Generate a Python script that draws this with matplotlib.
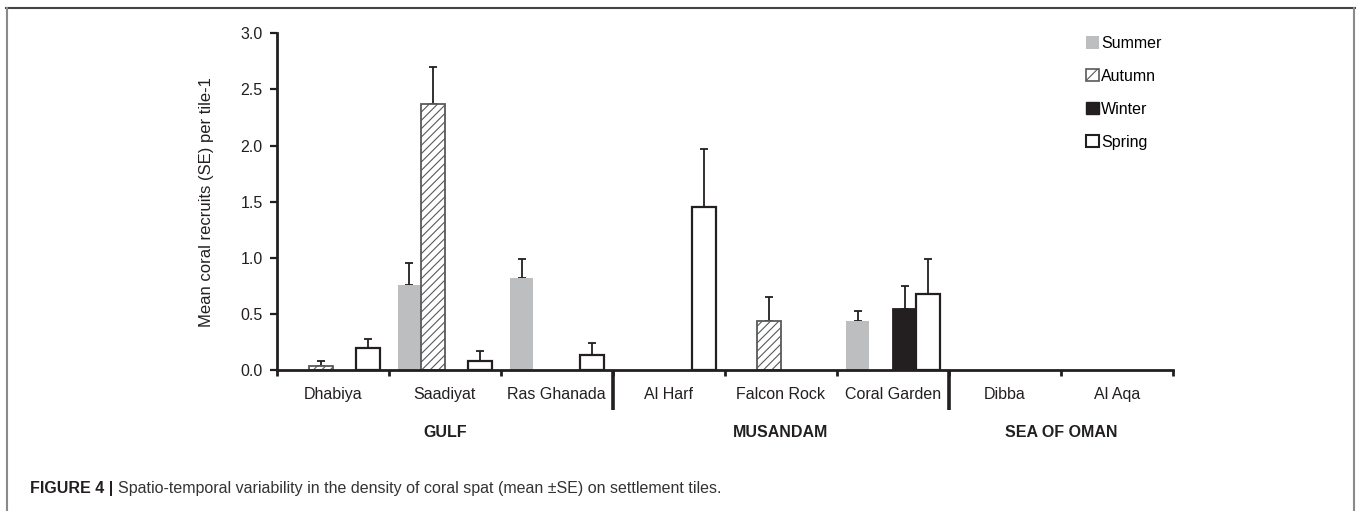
#------------------------------------------
#   Coral spat density by site and season
#------------------------------------------
import numpy as np
import matplotlib
matplotlib.use('Agg')
import matplotlib.pyplot as plt
from matplotlib.patches import Patch
from matplotlib.lines import Line2D

plt.rcParams['font.family'] = ['Liberation Sans', 'DejaVu Sans']
plt.rcParams['font.size'] = 11.5
plt.rcParams['hatch.linewidth'] = 0.8

#----- data
sites = ['Dhabiya', 'Saadiyat', 'Ras Ghanada', 'Al Harf', 'Falcon Rock',
         'Coral Garden', 'Dibba', 'Al Aqa']
regions = ['GULF', 'MUSANDAM', 'SEA OF OMAN']
region_bounds = [0, 3, 6, 8]
seasons = ['Summer', 'Autumn', 'Winter', 'Spring']
nan = np.nan
summer = [nan, 0.76, 0.82, nan, nan, 0.44, nan, nan]
summer_se = [nan, 0.19, 0.17, nan, nan, 0.09, nan, nan]
autumn = [0.04, 2.37, nan, nan, 0.44, nan, nan, nan]
autumn_se = [0.04, 0.33, nan, nan, 0.21, nan, nan, nan]
winter = [nan, nan, nan, nan, nan, 0.54, nan, nan]
winter_se = [nan, nan, nan, nan, nan, 0.21, nan, nan]
spring = [0.20, 0.08, 0.13, 1.45, nan, 0.68, nan, nan]
spring_se = [0.08, 0.09, 0.11, 0.52, nan, 0.31, nan, nan]

values = [summer, autumn, winter, spring]
errors = [summer_se, autumn_se, winter_se, spring_se]
styles = [dict(facecolor='#bcbec0', edgecolor='none', linewidth=0),
          dict(facecolor='white', edgecolor='#58595b', hatch='////', linewidth=1.3),
          dict(facecolor='#231f20', edgecolor='#231f20', linewidth=1.3),
          dict(facecolor='white', edgecolor='#231f20', linewidth=1.6)]
ink = '#231f20'

#----- figure
fig = plt.figure(figsize=(13.57, 5.11), dpi=100)
ax = fig.add_axes([276.7/1357, 141/511, 896.3/1357, 336.7/511])

x = np.arange(len(sites)) + 0.5
w = 0.21
for k in range(4):
    xs = x + (k - 1.5)*w
    ax.bar(xs, values[k], width=w, zorder=2, **styles[k])
    err = np.array(errors[k])
    ax.errorbar(xs, values[k], yerr=[np.zeros_like(err), err], fmt='none',
                ecolor=ink, elinewidth=1.3, capsize=3.2, capthick=1.3, zorder=1)

ax.set_xlim(0, 8)
ax.set_ylim(0, 3.0)
for s in ['top', 'right']:
    ax.spines[s].set_visible(False)
for s in ['left', 'bottom']:
    ax.spines[s].set_linewidth(2)
    ax.spines[s].set_color(ink)

ax.set_yticks(np.arange(0, 3.01, 0.5))
ax.set_yticklabels(['%.1f' % v for v in np.arange(0, 3.01, 0.5)], color=ink)
ax.tick_params(axis='y', direction='out', length=5, width=1.6, pad=5, color=ink)
ax.set_xticks(range(9))
ax.set_xticklabels([])
ax.tick_params(axis='x', direction='out', length=4.5, width=2, color=ink)

xt = ax.get_xaxis_transform()
for i, name in enumerate(sites):
    ax.text(i + 0.5, -29/336.7, name, ha='center', va='baseline',
            transform=xt, color=ink)
for i, name in enumerate(regions):
    c = (region_bounds[i] + region_bounds[i+1]) / 2
    ax.text(c, -67/336.7, name, ha='center', va='baseline', weight='bold',
            transform=xt, color=ink)
for b in region_bounds[1:3]:
    ax.plot([b, b], [0, -40/336.7], color=ink, lw=2.6, transform=xt,
            clip_on=False, solid_capstyle='butt')

ax.text(-70/896.3, 0.5, 'Mean coral recruits (SE) per tile-1', rotation=90,
        ha='center', va='center', transform=ax.transAxes, color=ink, fontsize=12)

#----- legend
handles = [Patch(facecolor='#bcbec0', edgecolor='none'),
           Patch(facecolor='white', edgecolor='#58595b', hatch='/', linewidth=1.2),
           Patch(facecolor='#231f20', edgecolor='#231f20'),
           Patch(facecolor='white', edgecolor='#231f20', linewidth=1.5)]
fig.legend(handles, seasons, loc='upper left', bbox_to_anchor=(1086/1357, 1 - 36/511),
           frameon=False, handlelength=0.8, handleheight=0.8, handletextpad=0.15,
           labelspacing=1.12, borderpad=0, borderaxespad=0)

#----- caption and frame
t1 = fig.text(30/1357, 18/511, 'FIGURE 4 |', weight='bold', color=ink, va='baseline')
fig.canvas.draw()
bb = t1.get_window_extent()
fig.text(bb.x1/1357 + 5/1357, 18/511,
         'Spatio-temporal variability in the density of coral spat (mean \u00b1SE) on settlement tiles.',
         color='#333333', va='baseline')

fig.add_artist(Line2D([6/1357, 1355/1357], [1 - 8/511]*2, color='#444444', lw=1.5,
                      transform=fig.transFigure))
fig.add_artist(Line2D([7/1357]*2, [0, 1 - 8/511], color='#8a8a8a', lw=1.5,
                      transform=fig.transFigure))
fig.add_artist(Line2D([1354/1357]*2, [0, 1 - 8/511], color='#8a8a8a', lw=1.5,
                      transform=fig.transFigure))

plt.savefig('out.png', dpi=100)
